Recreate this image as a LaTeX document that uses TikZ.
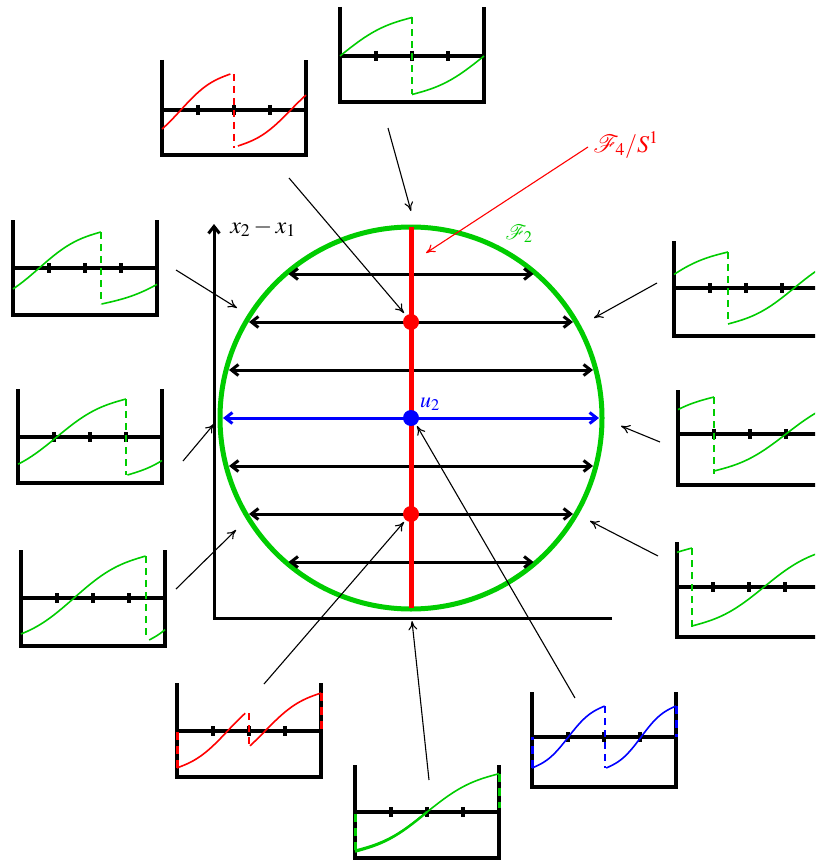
\documentclass[tikz,border=0pt]{standalone}
\usepackage{mathptmx}
\usepackage{mathrsfs}
\usetikzlibrary{arrows.meta}
\definecolor{mygreen}{RGB}{0,204,0}
\definecolor{myred}{RGB}{255,0,0}
\definecolor{myblue}{RGB}{0,0,255}
\tikzset{
 wall/.style={draw=black,line width=3.2pt},
 tickbar/.style={draw=black,line width=4pt},
 curve/.style={line width=1.6pt},
 jumpline/.style={line width=2pt,dash pattern=on 7pt off 5pt},
 walldash/.style={line width=3pt,dash pattern=on 8pt off 6pt},
 thinarrow/.style={draw=black,line width=1.1pt,-{To[length=9pt,width=9pt]}},
 chord/.style={line width=3pt,{Straight Barb[length=7pt,width=11pt]}-{Straight Barb[length=7pt,width=11pt]}},
 dot/.style={circle,inner sep=0pt,minimum size=16pt},
 lab/.style={font=\fontsize{24}{28}\selectfont,inner sep=1pt},
}
\newcommand\drawbox[4]{%
  \draw[wall] (#1,#2) -- (#1,#4) -- ({#1+144},#4) -- ({#1+144},#2);
  \draw[wall] (#1,#3) -- ({#1+144},#3);
  \foreach \k in {1,2,3} {\draw[tickbar] ({#1+36*\k},{#3-5}) -- ({#1+36*\k},{#3+5});}
}
\newcommand\piece[4]{\draw[curve] plot[domain=#3:#4,samples=40,variable=\t] ({#1+(\t-(#3))/((#4)-(#3))*((#2)-(#1))},{-(2*\t-1-0.159155*sin(360*\t))});}
\newcommand\jumpat[3]{\draw[jumpline] (#1,{-(#2)}) -- (#1,{-(#3)});}
\newcommand\walljump[3]{\draw[walldash] (#1,{-(#2)}) -- (#1,{-(#3)});}
\begin{document}
\begin{tikzpicture}[x=1pt,y=-1pt]
\useasboundingbox (0,0) rectangle (815,861);
\clip (0,0) rectangle (815,861);

% axes
\draw[line width=3pt,-{Straight Barb[length=7pt,width=11pt]}] (612,618) -- (214,618) -- (214,224);
\node[lab] (xlab) at (263,228) {$x_2-x_1$};

% circle
\draw[mygreen,line width=5pt] (411,418) circle[radius=191];

% chords
\foreach \i/\yy/\hw in {1/274/122.5, 2/322/162, 3/370/182, 5/466/182, 6/514/162, 7/562/122.5} {
  \coordinate (cl\i) at ({411-\hw},\yy);
  \coordinate (cr\i) at ({411+\hw},\yy);
  \draw[chord] (cl\i) -- (cr\i);
}
\coordinate (cl4) at (223,418);
\coordinate (cr4) at (599,418);
\draw[chord,myblue] (cl4) -- (cr4);

% red segment and dots
\coordinate (rtop) at (411,227);
\coordinate (rbot) at (411,608);
\draw[myred,line width=5pt] (rtop) -- (rbot);
\node[dot,fill=myred] (d1) at (411,322) {};
\node[dot,fill=myred] (d2) at (411,514) {};
\node[dot,fill=myblue] (d0) at (411,418) {};
\node[lab,myblue,font=\fontsize{22}{26}\selectfont] (ulab) at (430,404) {$u_2$};

% labels
\node[lab,myred] (f4) at (626,145) {$\mathscr{F}_4/S^1$};
\node[lab,mygreen,font=\fontsize{22}{26}\selectfont] (f2) at (519,234) {$\mathscr{F}_2$};
\coordinate (f4s) at (588,147);
\coordinate (f4e) at (426,253);
\draw[thinarrow,draw=myred] (f4s) -- (f4e);

% pointer arrows
\foreach \n/\xa/\ya/\xb/\yb in {1/388/128/411/211, 2/289/178/404/313, 3/176/270/237/308, 4/183/461/214/424, 5/176/589/236/530, 6/264/684/404/522, 7/429/780/412/621, 8/575/698/417/426, 9/658/556/590/521, 10/660/442/621/426, 11/657/283/594/318} {
  \coordinate (ps\n) at (\xa,\ya);
  \coordinate (pe\n) at (\xb,\yb);
  \draw[thinarrow] (ps\n) -- (pe\n);
}

% Box 1 top center
\drawbox{340}{7}{56}{102}
\begin{scope}[shift={(340,56)},xscale=144,yscale=38.5,mygreen]
 \piece{0}{0.5}{0.5}{1}\piece{0.5}{1}{0}{0.5}\jumpat{0.5}{1}{-1}
\end{scope}
% Box 2 top left red
\drawbox{162}{60}{110}{155}
\begin{scope}[shift={(162,110)},xscale=144,yscale=36,myred]
 \piece{0}{0.475}{0.31}{1}\piece{0.527}{1}{0}{0.645}\jumpat{0.5}{1}{-1.05}
\end{scope}
% Box 3 left upper
\drawbox{13}{220}{268}{315}
\begin{scope}[shift={(13,268)},xscale=144,yscale=36,mygreen]
 \piece{0}{0.61}{0.287}{1}\piece{0.615}{1}{0}{0.34}\jumpat{0.61}{1}{-1}
\end{scope}
% Box 4 left mid
\drawbox{18}{389}{437}{483}
\begin{scope}[shift={(18,437)},xscale=144,yscale=38,mygreen]
 \piece{0}{0.75}{0.22}{1}\piece{0.76}{1}{0}{0.27}\jumpat{0.75}{1}{-1}
\end{scope}
% Box 5 left lower
\drawbox{21}{550}{598}{646}
\begin{scope}[shift={(21,598)},xscale=144,yscale=42,mygreen]
 \piece{0}{0.866}{0.13}{1}\piece{0.89}{1}{0}{0.2}\jumpat{0.866}{1}{-0.93}
\end{scope}
% Box 6 bottom left red
\drawbox{177}{683}{731}{777}
\begin{scope}[shift={(177,731)},xscale=144,yscale=38,myred]
 \piece{0}{0.474}{0.03}{0.665}\piece{0.507}{1}{0.365}{1}\jumpat{0.5}{0.466}{-0.41}
 \walljump{0}{-0.966}{0}\walljump{1}{1}{0}
\end{scope}
% Box 7 bottom center
\drawbox{355}{765}{812}{858}
\begin{scope}[shift={(355,812)},xscale=144,yscale=38.3,mygreen]
 \piece{0}{1}{0}{1}\walljump{0}{-1}{0}\walljump{1}{1}{0.1}
\end{scope}
\begin{scope}[shift={(355,812)},xscale=144,yscale=39.6,mygreen]
 \draw[line width=2.4pt] plot[domain=0:0.5,samples=40,variable=\t] (\t,{-(2*\t-1-0.159155*sin(360*\t))});
\end{scope}
% Box 8 bottom right blue
\drawbox{532}{692}{737}{787}
\begin{scope}[shift={(532,737)},xscale=144,yscale=31,myblue]
 \piece{0}{0.505}{0}{1}\piece{0.515}{1}{0}{1}\jumpat{0.51}{1}{-1}
 \walljump{0}{-1}{0}\walljump{1}{1}{0}
\end{scope}
% Box 9 right lower
\drawbox{677}{542}{587}{637}
\begin{scope}[shift={(677,587)},xscale=144,yscale=39,mygreen]
 \piece{0}{0.104}{0.896}{1}\piece{0.104}{1}{0}{0.896}\jumpat{0.104}{1}{-1.07}
\end{scope}
% Box 10 right mid
\drawbox{678}{390}{434}{485}
\begin{scope}[shift={(678,434)},xscale=144,yscale=37,mygreen]
 \piece{0}{0.25}{0.75}{1}\piece{0.25}{1}{0}{0.75}\jumpat{0.25}{1}{-1.08}
\end{scope}
% Box 11 right upper
\drawbox{674}{241}{288}{336}
\begin{scope}[shift={(674,288)},xscale=144,yscale=36,mygreen]
 \piece{0}{0.375}{0.63}{1}\piece{0.375}{1}{0}{0.68}\jumpat{0.375}{1}{-0.96}
\end{scope}
\end{tikzpicture}
\end{document}
